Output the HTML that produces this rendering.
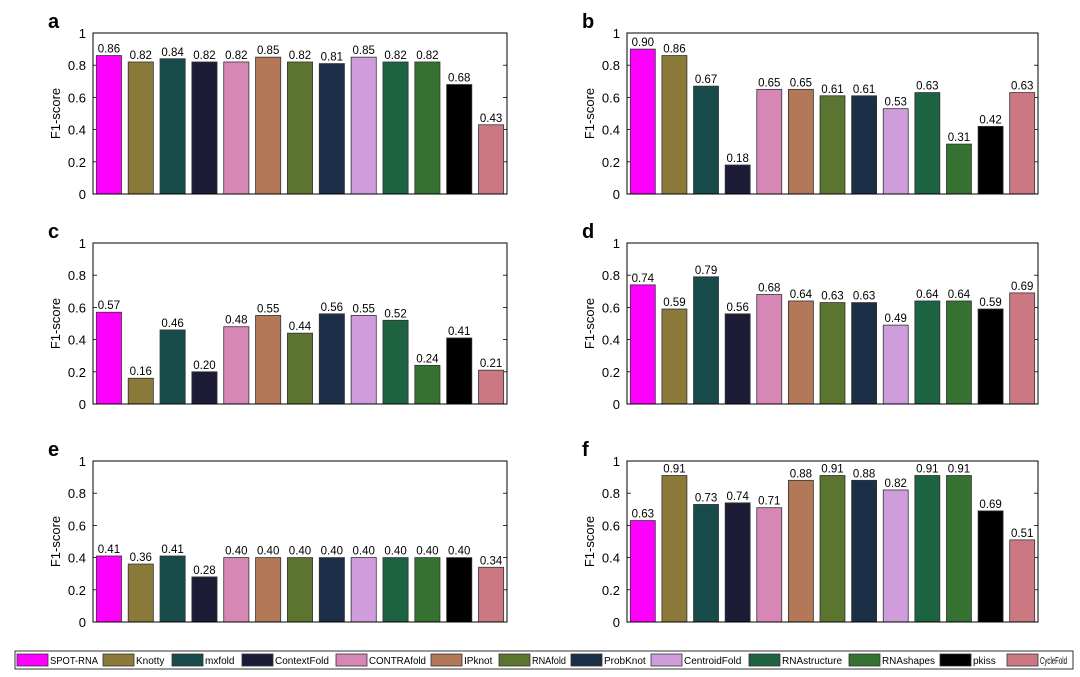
<!DOCTYPE html>
<html><head><meta charset="utf-8"><style>
body{margin:0;background:#fff;font-family:"Liberation Sans",sans-serif}
svg{display:block}
</style></head><body>
<svg id="c" width="1080" height="677"></svg>
<script>
const methods=["SPOT-RNA","Knotty","mxfold","ContextFold","CONTRAfold","IPknot","RNAfold","ProbKnot","CentroidFold","RNAstructure","RNAshapes","pkiss","CycleFold"];
const colors=["#ff00ff","#8b7a3a","#174c4a","#1c1c36","#d687b6","#b37858","#5b7430","#1b3048","#cf9ddb","#1d6341","#357232","#000000","#cc7882"];
const panelLabels=["a","b","c","d","e","f"];
const valuesA=[0.86,0.82,0.84,0.82,0.82,0.85,0.82,0.81,0.85,0.82,0.82,0.68,0.43];
const valuesB=[0.90,0.86,0.67,0.18,0.65,0.65,0.61,0.61,0.53,0.63,0.31,0.42,0.63];
const valuesC=[0.57,0.16,0.46,0.20,0.48,0.55,0.44,0.56,0.55,0.52,0.24,0.41,0.21];
const valuesD=[0.74,0.59,0.79,0.56,0.68,0.64,0.63,0.63,0.49,0.64,0.64,0.59,0.69];
const valuesE=[0.41,0.36,0.41,0.28,0.40,0.40,0.40,0.40,0.40,0.40,0.40,0.40,0.34];
const valuesF=[0.63,0.91,0.73,0.74,0.71,0.88,0.91,0.88,0.82,0.91,0.91,0.69,0.51];
const yTicks=[0,0.2,0.4,0.6,0.8,1];
const yTickLabels=["0","0.2","0.4","0.6","0.8","1"];

const svg=document.getElementById('c');
const NS="http://www.w3.org/2000/svg";
function mk(tag,attrs,parent){const e=document.createElementNS(NS,tag);for(const k in attrs)e.setAttribute(k,attrs[k]);(parent||svg).appendChild(e);return e;}
const allValues=[valuesA,valuesB,valuesC,valuesD,valuesE,valuesF];
const lefts=[93,627];const rights=[507,1038];const tops=[33,243,461];const H=161;
allValues.forEach((vals,i)=>{
  const col=i%2,row=Math.floor(i/2);
  const L=lefts[col],R=rights[col],T=tops[row],B=T+H;
  const g=mk('g',{});
  
  
  const y=v=>B-v*H;
  const pitch=(R-L)/vals.length;
  const bw=pitch*0.79;
  const pl=mk('text',{x:L-45,y:T-5,'font-size':20,'font-weight':'bold',fill:'#000'},g);
  pl.textContent=panelLabels[i];
  
  
  const yt=mk('text',{transform:`translate(${L-33},${(T+B)/2}) rotate(-90)`,'text-anchor':'middle','font-size':13,fill:'#000'},g);
  yt.textContent='F1-score';
  
  
  yTicks.forEach((t,k)=>{
    const yy=y(t);
    const tl=mk('text',{x:L-7,y:yy+5,'text-anchor':'end','font-size':13,fill:'#000'},g);
    tl.textContent=yTickLabels[k];
    
    
    mk('line',{x1:L,x2:L+4,y1:yy,y2:yy,stroke:'#000','stroke-width':0.8},g);
    mk('line',{x1:R-4,x2:R,y1:yy,y2:yy,stroke:'#000','stroke-width':0.8},g);
  });
  vals.forEach((v,j)=>{
    const x=L+pitch*j+(pitch-bw)/2;
    const r=mk('rect',{x:x,y:y(v),width:bw,height:B-y(v),fill:colors[j],stroke:'#333','stroke-width':0.8},g);
    
    
    const t=mk('text',{x:x+bw/2,y:y(v)-3,'text-anchor':'middle','font-size':11.5,fill:'#000'},g);
    t.textContent=v.toFixed(2);
    
    
  });
  const fr=mk('rect',{x:L,y:T,width:R-L,height:H,fill:'none',stroke:'#000','stroke-width':1},g);
  
  
});
// legend
const lg=mk('g',{});


mk('rect',{x:15,y:651,width:1058,height:18,fill:'#fff',stroke:'#000','stroke-width':0.8},lg);
const legendX=[17,103,172,242,336,431,499,571,651,749,849,940,1007];
methods.forEach((m,j)=>{
  const x=legendX[j];
  const next=j<legendX.length-1?legendX[j+1]:1072;
  const e=mk('g',{},lg);
  
  
  mk('rect',{x:x,y:654,width:31,height:12,fill:colors[j],stroke:'#333','stroke-width':0.8},e);
  const t=mk('text',{x:x+33,y:664,'font-size':10,fill:'#000'},e);
  t.textContent=m;
  const maxW=next-(x+33)-5;
  const w=t.getComputedTextLength();
  if(w>maxW){t.setAttribute('textLength',maxW);t.setAttribute('lengthAdjust','spacingAndGlyphs');}
});
</script>
</body></html>
